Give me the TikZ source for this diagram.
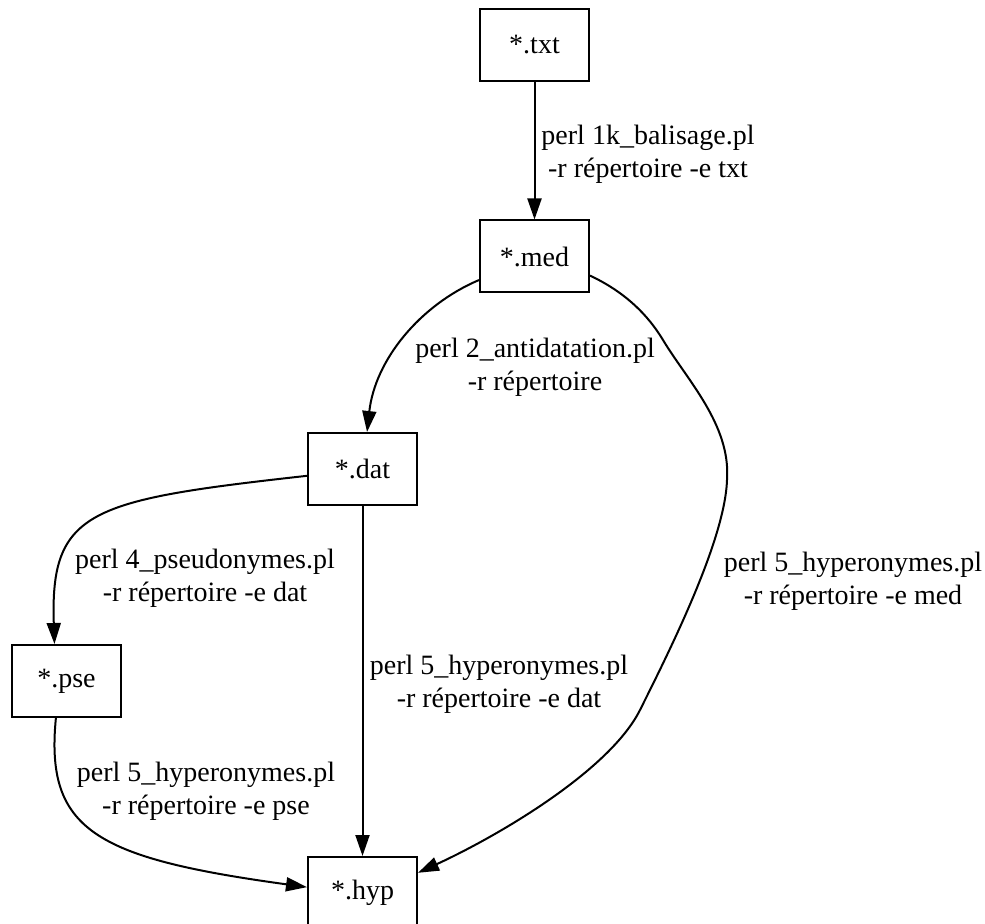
\documentclass[tikz,border=0pt]{standalone}
\usepackage{fontspec}
\setmainfont{Liberation Serif}
\usetikzlibrary{arrows.meta}

\tikzset{every picture/.style={line width=1pt}}
\tikzset{
  filebox/.style={draw, rectangle, minimum width=54.5pt, minimum height=36pt, inner sep=0pt, font=\fontsize{14}{16.5}\selectfont},
  cmdlabel/.style={align=center, inner sep=0.75pt, font=\fontsize{14}{16.5}\selectfont},
  flow/.style={-{Triangle[length=10.5pt,width=7pt]}},
}

\begin{document}
\begin{tikzpicture}[x=0.5pt,y=0.5pt,yscale=-1,xscale=1]
\useasboundingbox (0,0) rectangle (985,924);

%Files
\node [filebox] (txt) at (534.5,45) {*.txt};
\node [filebox] (med) at (534.5,256.5) {*.med};
\node [filebox] (dat) at (362.5,469) {*.dat};
\node [filebox] (pse) at (66.5,681) {*.pse};
\node [filebox] (hyp) at (362.5,893) {*.hyp};

%Straight Lines
\draw [flow] (txt) -- (med);
\draw [flow] (dat) -- (hyp);
%Curves
\draw [flow] (med.203) .. controls (420,305) and (375,360) .. (dat.83);
\draw [flow] (med.341) .. controls (625,292) and (648,315) .. (663,340)
  .. controls (687,380) and (731,425) .. (727,480)
  .. controls (725,540) and (670,650) .. (640,710)
  .. controls (610,770) and (500,835) .. (hyp.20);
\draw [flow] (dat.187) .. controls (90,500) and (50,510) .. (pse.108);
\draw [flow] (pse.254) .. controls (45,830) and (95,858) .. (hyp.174);

% Text Node
\node [cmdlabel] (lbltxt) at (648,154.5) {perl 1k\_balisage.pl\\-r répertoire -e txt};
% Text Node
\node [cmdlabel] (lblmed) at (535,367) {perl 2\_antidatation.pl\\-r répertoire};
% Text Node
\node [cmdlabel] (lbldat) at (205,578.5) {perl 4\_pseudonymes.pl\\-r répertoire -e dat};
% Text Node
\node [cmdlabel] (lbldathyp) at (499,684) {perl 5\_hyperonymes.pl\\-r répertoire -e dat};
% Text Node
\node [cmdlabel] (lblpse) at (206,791) {perl 5\_hyperonymes.pl\\-r répertoire -e pse};
% Text Node
\node [cmdlabel] (lblmedhyp) at (853,581) {perl 5\_hyperonymes.pl\\-r répertoire -e med};

\end{tikzpicture}
\end{document}
